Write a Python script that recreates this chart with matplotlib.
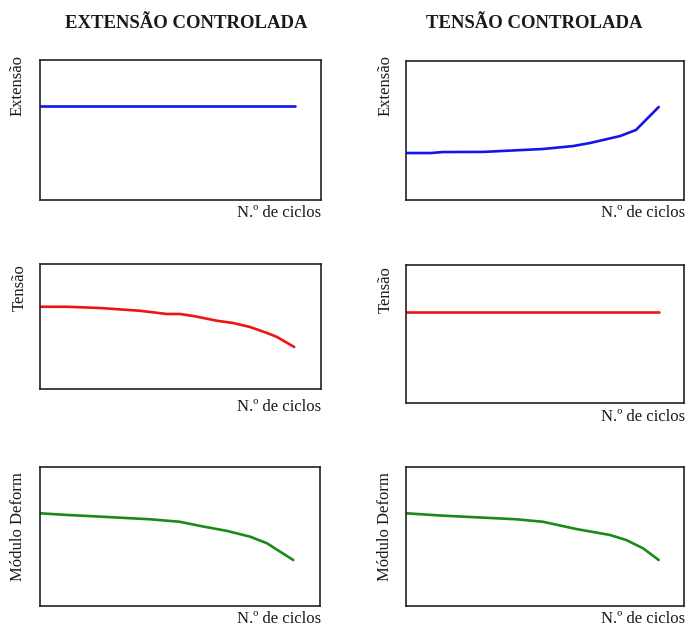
import matplotlib
matplotlib.use("Agg")
import matplotlib.pyplot as plt

W, H = 686, 626

# Strain-controlled column
ext_ctrl_ext_x = [0, 100]
ext_ctrl_ext_y = [67, 67]
ext_ctrl_ten_x = [0, 10.6, 23.5, 39, 49.7, 54.8, 60, 69.3, 75.6, 82.2, 88.9, 92.8, 99.5]
ext_ctrl_ten_y = [65.8, 65.8, 64.8, 62.6, 60, 60, 58.4, 54.6, 52.8, 49.6, 44.8, 41.6, 33.6]
ext_ctrl_mod_x = [0, 10.6, 23.6, 43.2, 54.9, 62.9, 73.5, 82.5, 89.2, 94.3, 99.5]
ext_ctrl_mod_y = [66.7, 65.5, 64.3, 62.4, 60.6, 57.6, 54.0, 49.9, 45.1, 39.1, 33.1]

# Stress-controlled column
ten_ctrl_ext_x = [0, 9.9, 14.6, 30.5, 54.2, 66.1, 72.8, 84.7, 91.0, 100]
ten_ctrl_ext_y = [33.8, 33.8, 34.5, 34.6, 36.7, 38.8, 41.0, 46.0, 50.4, 66.9]
ten_ctrl_ten_x = [0, 100]
ten_ctrl_ten_y = [66.2, 66.2]
ten_ctrl_mod_x = [0, 14.6, 43.5, 54.2, 67.3, 80.7, 87.1, 93.8, 100]
ten_ctrl_mod_y = [66.7, 65.0, 62.4, 60.6, 55.4, 51.1, 47.5, 41.5, 33.1]

col_titles = ["EXTENSÃO CONTROLADA", "TENSÃO CONTROLADA"]
row_labels = ["Extensão", "Tensão", "Módulo Deform"]
x_label = "N.º de ciclos"

plt.rcParams["font.family"] = ["Liberation Serif", "DejaVu Serif"]

fig = plt.figure(figsize=(W / 100, H / 100), dpi=100)


def box(x0, y0, x1, y1):
    return [x0 / W, 1 - y1 / H, (x1 - x0) / W, (y1 - y0) / H]


def ftext(x, y, s, **kw):
    fig.text(x / W, 1 - y / H, s, color="#1a1a1a", **kw)


panels = [
    (box(40, 60, 321, 200), ext_ctrl_ext_x, ext_ctrl_ext_y, "#1414ee"),
    (box(406, 61, 684, 200), ten_ctrl_ext_x, ten_ctrl_ext_y, "#1414ee"),
    (box(40, 264, 321, 389), ext_ctrl_ten_x, ext_ctrl_ten_y, "#ee1414"),
    (box(406, 265, 684, 403), ten_ctrl_ten_x, ten_ctrl_ten_y, "#ee1414"),
    (box(40, 467, 320, 606), ext_ctrl_mod_x, ext_ctrl_mod_y, "#1a8a1a"),
    (box(406, 467, 684, 606), ten_ctrl_mod_x, ten_ctrl_mod_y, "#1a8a1a"),
]

for rect, xs, ys, color in panels:
    ax = fig.add_axes(rect)
    ax.plot(xs, ys, color=color, lw=1.9, solid_capstyle="round", solid_joinstyle="round")
    ax.set_xlim(0, 110)
    ax.set_ylim(0, 100)
    ax.set_xticks([])
    ax.set_yticks([])
    for sp in ax.spines.values():
        sp.set_color("#222222")
        sp.set_linewidth(1.2)

# Column titles
ftext(186, 23, col_titles[0], ha="center", va="center", fontsize=13.5, fontweight="bold")
ftext(534, 23, col_titles[1], ha="center", va="center", fontsize=13.5, fontweight="bold")

# Row labels (vertical)
ylab_pos = [((18, 86), (386, 86)), ((20, 288), (386, 290)), ((18, 527), (385, 527))]
for lab, (pl, pr) in zip(row_labels, ylab_pos):
    for (x, y) in (pl, pr):
        ftext(x, y, lab, ha="center", va="center", rotation=90, fontsize=12)

# Cycle-count labels
xlab_pos = [(321, 213), (685, 213), (321, 407), (685, 417), (321, 619), (685, 619)]
for (x, y) in xlab_pos:
    ftext(x, y, x_label, ha="right", va="center", fontsize=12)

fig.savefig("out.png", dpi=100)
